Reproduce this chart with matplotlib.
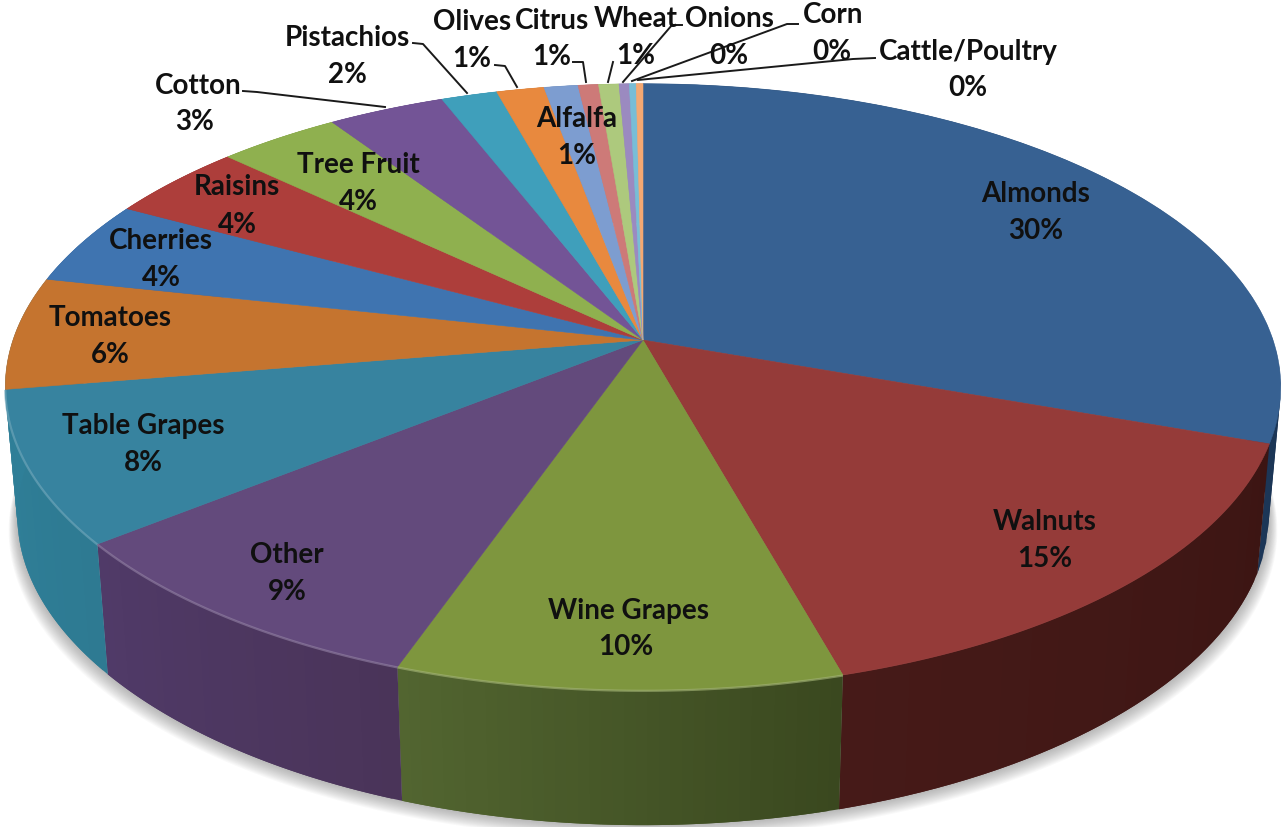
import numpy as np
import matplotlib
matplotlib.use("Agg")
import matplotlib.pyplot as plt
from matplotlib.collections import PolyCollection
from matplotlib.patches import Polygon

# slices, clockwise from 12 o'clock
crops = ["Almonds", "Walnuts", "Wine Grapes", "Other", "Table Grapes", "Tomatoes",
         "Cherries", "Raisins", "Tree Fruit", "Cotton", "Pistachios", "Olives",
         "Alfalfa", "Citrus", "Wheat", "Onions", "Corn", "Cattle/Poultry"]
shares = [30.4, 15.25, 9.75, 8.9, 8.1, 6.0, 4.5, 4.1, 3.6, 3.45, 1.65, 1.4,
          1.0, 0.6, 0.6, 0.3, 0.2, 0.2]
percent_labels = ["30%", "15%", "10%", "9%", "8%", "6%", "4%", "4%", "4%", "3%", "2%",
                  "1%", "1%", "1%", "1%", "0%", "0%", "0%"]

top_colors = ["#376192", "#953b39", "#7e963e", "#634a7c", "#37839f", "#c5742f",
              "#3f74b0", "#ad3e3b", "#8fb04f", "#735496", "#3f9fbb", "#e8893e",
              "#7d9dd0", "#cd7a78", "#adc97d", "#9b8ac0", "#78bdd6", "#f4a872"]
side_left = ["#1c3657", "#461a18", "#526530", "#503a68", "#2f7f98", "#2f7f98",
             "#2f5a8c", "#8c2f2d", "#76903f", "#5f4680", "#338aa5", "#b96d2e",
             "#5d7aa5", "#a05c5a", "#88a05f", "#77689a", "#5a97ac", "#c08558"]
side_right = ["#12263f", "#3c1513", "#3a481f", "#4a3459", "#2e7a92", "#2f7f98",
              "#2f5a8c", "#8c2f2d", "#76903f", "#5f4680", "#338aa5", "#b96d2e",
              "#5d7aa5", "#a05c5a", "#88a05f", "#77689a", "#5a97ac", "#c08558"]

# label centres in picture pixels
name_xy = [(1036, 194), (1045, 522), (628, 611), (287, 555), (143, 426), (110, 318),
           (161, 241), (237, 187), (358, 165), (198, 86), (347, 38), (472, 22),
           (577, 119), (552, 21), (636, 19), (729, 19), (833, 15), (968, 52)]
pct_xy = [(1036, 231), (1045, 559), (626, 647), (287, 592), (143, 463), (110, 355),
          (161, 278), (237, 225), (358, 202), (195, 122), (347, 75), (472, 59),
          (577, 156), (552, 57), (636, 56), (729, 56), (832, 52), (968, 88)]

leaders = [[(243, 91), (257, 92), (385, 107)],
           [(413, 43), (423, 44), (467, 93)],
           [(495, 65), (505, 66), (517, 87)],
           [(573, 62), (583, 62), (586, 82)],
           [(613, 62), (608, 82)],
           [(682, 25), (672, 25), (623, 82)],
           [(798, 24), (787, 24), (632, 81)],
           [(875, 58), (853, 59), (638, 80)]]

W, H = 1281, 827
HUB_X = 643
HUB_Y = 340


def top_face(t):
    u, v = np.sin(t), np.cos(t)
    w = 1 + 0.155 * v
    return HUB_X + 630 * u / w, HUB_Y - 296 * v / w


def bottom_face(t):
    u, v = np.sin(t), np.cos(t)
    return (HUB_X + 618 * u / (1 + 0.155 * v),
            470 - 291.6 * v / (1 + 0.179 * v))


def mix(c1, c2, f):
    a = np.array(matplotlib.colors.to_rgb(c1))
    b = np.array(matplotlib.colors.to_rgb(c2))
    return a + (b - a) * f


def draw_shadow(ax):
    t = np.linspace(0, 2 * np.pi, 400)
    x, y = bottom_face(t)
    for i in range(14, 0, -1):
        sx = HUB_X + (x - HUB_X) * (1 + i * 0.001)
        sy = y + i * 1.0
        ax.add_patch(Polygon(np.c_[sx, sy], closed=True, fc="#6a6a6a", ec="none", alpha=0.04))


def draw_sides(ax, edges):
    for i in range(len(shares)):
        t = np.linspace(edges[i], edges[i + 1], 40)
        x1, y1 = top_face(t)
        x2, y2 = bottom_face(t)
        quads = []
        cols = []
        for j in range(len(t) - 1):
            # each strip runs over the next one so no seams show
            k = min(j + 2, len(t) - 1)
            quads.append([(x1[j], y1[j]), (x1[k], y1[k]), (x2[k], y2[k]), (x2[j], y2[j])])
            cols.append(mix(side_right[i], side_left[i], j / (len(t) - 2)))
        ax.add_collection(PolyCollection(quads, facecolors=cols, edgecolors="none"))


def draw_top(ax, edges):
    for i in range(len(shares)):
        t = np.linspace(edges[i], edges[i + 1], 120)
        x, y = top_face(t)
        pts = np.vstack([[HUB_X, HUB_Y], np.c_[x, y]])
        ax.add_patch(Polygon(pts, closed=True, fc=top_colors[i], ec=top_colors[i], lw=0.4))

    # light rim on the front left of the pie
    for i in range(2, 5):
        t = np.linspace(edges[i], edges[i + 1], 120)
        x, y = top_face(t)
        rim = mix(top_colors[i], "#ffffff", 0.28)
        ax.plot(x, y + 0.5, color=rim, lw=1.6, alpha=0.65, solid_capstyle="butt")


def main():
    plt.rcParams["font.family"] = ["Lato", "DejaVu Sans"]
    fig = plt.figure(figsize=(W / 100, H / 100), dpi=100)
    ax = fig.add_axes([0, 0, 1, 1])
    ax.set_xlim(0, W)
    ax.set_ylim(H, 0)
    ax.axis("off")

    edges = 2 * np.pi * np.concatenate([[0], np.cumsum(shares)]) / np.sum(shares)

    draw_shadow(ax)
    draw_sides(ax, edges)
    draw_top(ax, edges)

    for pts in leaders:
        xs, ys = zip(*pts)
        ax.plot(xs, ys, color="#1a1a1a", lw=1.4, solid_joinstyle="round")

    for i in range(len(crops)):
        ax.text(name_xy[i][0], name_xy[i][1], crops[i], fontsize=20, fontweight="bold",
                color="#101010", ha="center", va="center")
        ax.text(pct_xy[i][0], pct_xy[i][1], percent_labels[i], fontsize=20, fontweight="bold",
                color="#101010", ha="center", va="center")

    fig.savefig("out.png", dpi=100)


if __name__ == "__main__":
    main()
